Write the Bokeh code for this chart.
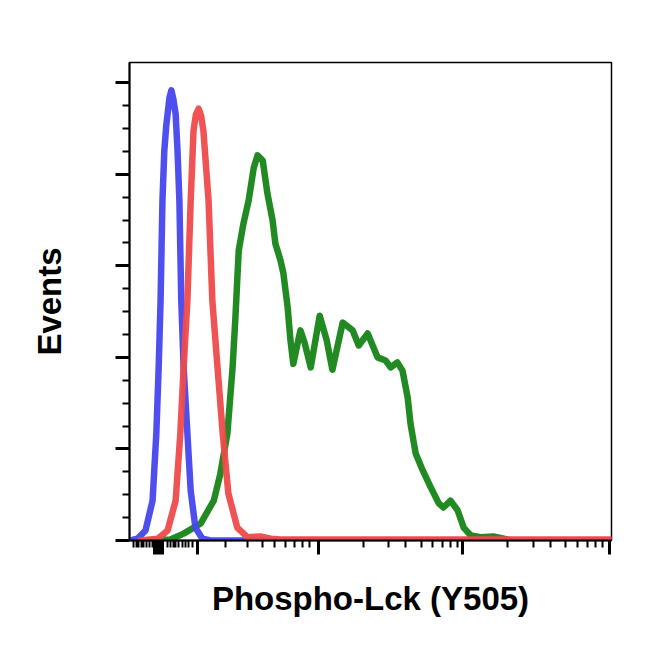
from bokeh.plotting import figure
from bokeh.models import Range1d, FixedTicker, CustomJSTickFormatter
from bokeh.embed import file_html
from bokeh.resources import INLINE

# Channel (display) scale 0..1024, y as % of mode
blue_x = [2, 17, 34, 49, 57, 62, 66, 70, 74, 78, 81, 85, 89, 93, 98, 102, 106, 110, 115, 123, 130, 140, 155, 172, 1024]
blue_y = [0, 0.4, 2.2, 8.7, 23.4, 37.8, 52.4, 74.2, 85.2, 90.5, 93.2, 96.8, 98.3, 96.5, 93.2, 85.2, 74.2, 52.4, 37.8, 23.4, 10.9, 2.8, 0.4, 0, 0]

red_x = [23, 60, 81, 98, 108, 115, 123, 130, 136, 141, 147, 152, 157, 168, 176, 187, 198, 210, 229, 251, 278, 300, 321, 1024]
red_y = [0, 0.4, 2.2, 8.7, 23.4, 37.8, 52.4, 74.2, 89.5, 93.0, 94.3, 92.8, 89.5, 74.2, 52.4, 37.8, 23.4, 10.3, 2.8, 0.7, 0.9, 0.4, 0.2, 0.2]

green_x = [45, 87, 115, 151, 179, 193, 208, 219, 225, 232, 242, 253, 264, 272, 283, 293, 304, 310, 321, 327,
           336, 342, 348, 363, 372, 385, 404, 419, 431, 453, 474, 487, 506, 527, 544, 555, 569, 580, 591, 597,
           608, 623, 640, 657, 667, 682, 697, 710, 725, 746, 773, 795, 809]
green_y = [0, 0.2, 1.5, 3.7, 8.7, 14.6, 23.4, 37.8, 48.7, 63.3, 69.2, 74.2, 81.4, 84.1, 83.0, 75.8, 69.9, 64.8, 61.1, 58.3,
           50.9, 43.7, 38.6, 45.9, 43.2, 37.8, 49.1, 43.7, 37.3, 47.6, 45.9, 42.6, 45.2, 40.0, 39.3, 37.8, 38.9, 37.1, 31.2, 25.5,
           19.0, 15.3, 11.6, 8.1, 7.2, 8.7, 6.6, 2.8, 1.1, 0.7, 0.9, 0.4, 0]

x_major = [54, 57, 60, 62, 64, 66, 68, 70, 144, 402, 708, 1020]
x_minor = [8, 15, 19, 25, 30, 36, 42, 49, 81, 87, 93, 98, 104, 113, 119, 125, 134,
           204, 251, 283, 308, 331, 350, 367, 382,
           497, 550, 586, 620, 644, 665, 682, 697,
           803, 858, 894, 926, 952, 973, 990, 1005]
y_major = [0, 20, 40, 60, 80, 100]
y_minor = [5, 10, 15, 25, 30, 35, 45, 50, 55, 65, 70, 75, 85, 90, 95]

p = figure(width=642, height=642, output_backend="svg", toolbar_location=None,
           x_range=Range1d(0, 1024), y_range=Range1d(0, 104.4),
           min_border_left=129, min_border_right=31, min_border_top=62, min_border_bottom=102)

p.xgrid.visible = False
p.ygrid.visible = False
p.background_fill_color = "white"
p.border_fill_color = "white"
p.outline_line_color = "black"
p.outline_line_width = 1.5

p.line(green_x, green_y, line_color="#168416", line_width=6.5, line_join="round", line_cap="round", line_alpha=0.95)
p.line(blue_x, blue_y, line_color="#4646ee", line_width=6.5, line_join="round", line_cap="round", line_alpha=0.95)
p.line(red_x, red_y, line_color="#ef4a4a", line_width=6.5, line_join="round", line_cap="round", line_alpha=0.95)

p.xaxis.ticker = FixedTicker(ticks=x_major, minor_ticks=x_minor)
p.yaxis.ticker = FixedTicker(ticks=y_major, minor_ticks=y_minor)

for ax in (p.xaxis, p.yaxis):
    ax.formatter = CustomJSTickFormatter(code="return ''")
    ax.axis_line_color = "black"
    ax.axis_line_width = 2
    ax.major_tick_line_color = "black"
    ax.major_tick_line_width = 3
    ax.major_tick_out = 14
    ax.major_tick_in = 0
    ax.minor_tick_line_color = "black"
    ax.minor_tick_line_width = 2
    ax.minor_tick_out = 7
    ax.minor_tick_in = 0
    ax.major_label_standoff = 0
    ax.axis_label_text_font = "Liberation Sans"
    ax.axis_label_text_font_style = "bold"
    ax.axis_label_text_font_size = "33px"
    ax.axis_label_text_color = "black"

p.xaxis.axis_label = "Phospho-Lck (Y505)"
p.yaxis.axis_label = "Events"
p.xaxis.axis_label_standoff = 25
p.yaxis.axis_label_standoff = 48

open("out.html", "w").write(file_html(p, INLINE))
